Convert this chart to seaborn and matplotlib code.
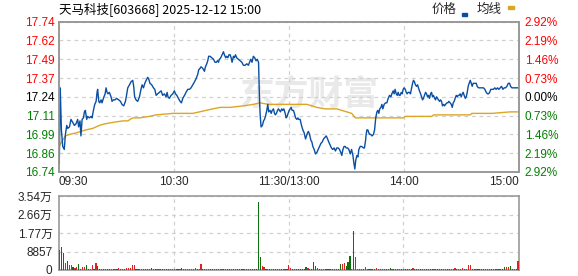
import numpy as np
import pandas as pd
import matplotlib
matplotlib.use("Agg")
import matplotlib.pyplot as plt
import seaborn as sns
from matplotlib.patches import Rectangle

# ---------------- data ----------------
title = "天马科技[603668] 2025-12-12 15:00"
legend_labels = ["价格", "均线"]
watermark = "东方财富"

price_tick_labels = ["16.74", "16.86", "16.99", "17.11", "17.24", "17.37", "17.49", "17.62", "17.74"]
pct_tick_labels = ["2.92%", "2.19%", "1.46%", "0.73%", "0.00%", "0.73%", "1.46%", "2.19%", "2.92%"]
time_ticks = [0, 60, 120, 180, 240]
time_labels = ["09:30", "10:30", "11:30/13:00", "14:00", "15:00"]
vol_ticks = [0, 8857, 17714, 26571, 35428]
vol_tick_labels = ["0", "8857", "1.77万", "2.66万", "3.54万"]

# minutes since 09:30 (trading minutes) and price
price_t = [
    0, 0.3, 0.8, 1.4, 2.1, 2.9, 3.5, 4.2, 4.7, 5.6,
    6.4, 7.3, 8.2, 9.0, 9.9, 10.4, 11.1, 11.6, 12.2, 12.9,
    13.4, 13.9, 14.6, 15.1, 16.0, 16.9, 17.4, 18.1, 18.8, 19.5,
    20.0, 20.3, 20.9, 21.4, 22.1, 22.6, 23.3, 24.2, 24.7, 25.2,
    25.7, 26.4, 27.3, 27.8, 28.5, 29.4, 30.2, 31.3, 32.2, 33.0,
    33.9, 34.8, 35.5, 36.0, 36.9, 37.7, 38.6, 39.1, 39.6, 40.3,
    41.2, 42.1, 42.9, 43.5, 44.2, 44.9, 45.6, 46.4, 46.9, 47.6,
    48.5, 49.4, 50.1, 50.8, 51.6, 52.5, 53.4, 54.2, 55.1, 56.0,
    56.5, 57.0, 57.7, 58.6, 59.5, 60.3, 60.9, 61.6, 62.4, 63.3,
    64.0, 64.7, 65.6, 66.4, 67.3, 68.2, 69.0, 69.9, 70.8, 71.6,
    72.5, 73.0, 73.7, 74.2, 75.1, 76.0, 76.5, 77.2, 77.7, 78.2,
    78.9,
    80.7, 81.5, 82.1, 82.8, 83.3, 83.8, 84.5, 85.2, 85.9,
    86.4, 87.1, 87.6, 88.2, 88.8, 89.4, 89.9, 90.4, 91.1, 91.6,
    92.2, 92.8, 93.7, 94.6, 95.5, 96.3, 97.2, 98.1, 98.9, 99.5,
    100.2, 100.8, 101.5, 102.2, 102.9, 103.5, 104.2, 104.7, 105.0, 105.5,
    106.2, 106.8, 107.3, 107.8, 108.5, 109.0, 109.5, 110.2, 110.8, 111.3,
    112.0, 112.5, 113.0, 113.5, 114.1, 114.6, 115.1, 115.6, 116.3, 116.8,
    117.4, 118.1, 118.6, 119.1, 119.6, 120.2, 120.7, 121.2, 121.7, 122.4,
    122.9, 123.5, 124.2, 124.7, 125.2, 125.9, 126.6, 127.3, 128.0, 128.7,
    129.2, 129.7, 130.2, 130.8, 131.5, 132.0, 132.5, 133.2, 133.9, 134.6,
    135.3, 136.0, 136.7, 137.4, 138.1, 138.8, 139.5, 140.2, 140.8, 141.5,
    142.2, 142.9, 143.6, 144.3, 145.0, 145.7, 146.4, 147.1, 147.6, 148.2,
    148.8, 149.4, 149.9, 150.6, 151.3, 152.0, 152.7, 153.4, 153.9, 154.4,
    154.9, 155.5, 156.0, 156.5,
    157.2, 158.0, 158.9, 159.4, 160.0, 160.3, 160.7, 161.2, 161.7, 162.2,
    162.7, 163.4, 164.1, 164.7, 165.0, 165.3, 165.9, 166.4, 166.9, 167.4,
    168.0, 168.5, 169.0, 169.7, 170.4, 171.1, 171.8, 172.5, 173.2, 173.7,
    174.4, 174.9, 175.4, 176.0, 176.5, 177.0, 177.5, 178.0, 178.6, 179.1,
    179.6, 180.1, 180.7, 181.2, 181.7, 182.2, 182.9, 183.4, 184.0, 184.5,
    185.0, 185.5, 186.0, 186.6, 187.1, 187.6, 188.1, 188.7, 189.2, 189.7,
    190.2, 190.7, 191.3, 191.8, 192.3, 192.8, 193.3, 193.9, 194.4, 194.9,
    195.4, 196.0, 196.5, 197.0, 197.5, 198.0, 198.6, 199.1, 199.6, 200.1,
    200.7, 201.2, 201.7, 202.4, 202.9, 203.4, 204.1, 204.7, 205.2, 205.7,
    206.2, 206.7, 207.3, 207.8, 208.3, 208.8, 209.3, 209.9, 210.4, 210.9,
    211.4, 212.0, 212.5, 213.0, 213.5, 214.0, 214.6, 215.1, 215.6, 216.1,
    216.7, 217.2, 217.7, 218.2, 218.9, 219.8, 220.7, 221.5, 222.2, 222.9,
    223.6, 224.1, 224.7, 225.3, 226.0, 226.7, 227.4, 228.1, 228.8, 229.5,
    230.2, 230.9, 231.6, 232.3, 233.0, 233.7, 234.4, 235.1, 235.6, 236.3,
    237.2, 238.9, 240.0,
]
price = [
    17.04, 16.80, 17.30, 17.02, 16.91, 16.89, 16.99, 17.05, 17.03, 17.04,
    17.09, 17.07, 17.05, 17.06, 17.09, 17.04, 17.08, 16.98, 17.09, 17.10,
    17.14, 17.15, 17.09, 17.11, 17.10, 17.11, 17.10, 17.15, 17.19, 17.21,
    17.27, 17.29, 17.21, 17.20, 17.22, 17.20, 17.23, 17.26, 17.30, 17.27,
    17.26, 17.27, 17.24, 17.21, 17.22, 17.22, 17.23, 17.22, 17.21, 17.19,
    17.18, 17.21, 17.26, 17.30, 17.32, 17.34, 17.35, 17.31, 17.24, 17.22,
    17.21, 17.24, 17.29, 17.32, 17.30, 17.33, 17.35, 17.37, 17.36, 17.33,
    17.32, 17.30, 17.29, 17.25, 17.26, 17.27, 17.28, 17.25, 17.26, 17.24,
    17.27, 17.24, 17.23, 17.25, 17.26, 17.28, 17.26, 17.25, 17.23, 17.21,
    17.20, 17.23, 17.25, 17.27, 17.29, 17.29, 17.30, 17.32, 17.34, 17.36,
    17.39, 17.42, 17.43, 17.44, 17.43, 17.41, 17.44, 17.46, 17.48, 17.51,
    17.51,
    17.49, 17.47, 17.47, 17.48, 17.47, 17.49, 17.50, 17.52, 17.54,
    17.52, 17.50, 17.51, 17.50, 17.52, 17.52, 17.50, 17.47, 17.51, 17.50,
    17.52, 17.50, 17.49, 17.48, 17.47, 17.45, 17.45, 17.46, 17.45, 17.47,
    17.49, 17.47, 17.51, 17.50, 17.48, 17.49, 17.47, 17.22, 17.13, 17.04,
    17.05, 17.08, 17.09, 17.11, 17.15, 17.19, 17.14, 17.15, 17.13, 17.15,
    17.16, 17.13, 17.12, 17.13, 17.15, 17.16, 17.15, 17.14, 17.16, 17.15,
    17.16, 17.13, 17.10, 17.11, 17.13, 17.15, 17.16, 17.17, 17.15, 17.15,
    17.13, 17.10, 17.09, 17.10, 17.09, 17.09, 17.05, 17.02, 17.00, 16.96,
    16.98, 17.00, 17.01, 16.99, 16.95, 16.94, 16.91, 16.89, 16.86, 16.87,
    16.89, 16.91, 16.93, 16.94, 16.96, 16.97, 16.98, 16.96, 16.94, 16.92,
    16.90, 16.89, 16.90, 16.88, 16.90, 16.90, 16.89, 16.87, 16.85, 16.89,
    16.91, 16.91, 16.90, 16.90, 16.89, 16.86, 16.89, 16.85, 16.80, 16.76,
    16.82, 16.85, 16.84, 16.89,
    16.91, 16.91, 16.90, 16.90, 16.95, 16.99, 17.02, 17.02, 17.00, 16.99,
    16.99, 16.98, 16.99, 17.02, 17.06, 17.10, 17.14, 17.15, 17.13, 17.16,
    17.17, 17.19, 17.16, 17.19, 17.20, 17.20, 17.23, 17.25, 17.24, 17.26,
    17.28, 17.26, 17.29, 17.26, 17.25, 17.27, 17.25, 17.25, 17.27, 17.26,
    17.29, 17.30, 17.29, 17.27, 17.26, 17.27, 17.27, 17.26, 17.30, 17.33,
    17.35, 17.34, 17.32, 17.31, 17.32, 17.30, 17.28, 17.26, 17.24, 17.22,
    17.23, 17.25, 17.27, 17.26, 17.24, 17.25, 17.23, 17.26, 17.27, 17.24,
    17.25, 17.23, 17.22, 17.24, 17.23, 17.22, 17.21, 17.22, 17.21, 17.18,
    17.19, 17.18, 17.19, 17.20, 17.20, 17.21, 17.20, 17.19, 17.17, 17.20,
    17.21, 17.23, 17.25, 17.24, 17.25, 17.25, 17.26, 17.24, 17.26, 17.27,
    17.25, 17.23, 17.24, 17.27, 17.31, 17.33, 17.35, 17.33, 17.31, 17.33,
    17.33, 17.33, 17.33, 17.31, 17.30, 17.30, 17.30, 17.30, 17.29, 17.27,
    17.26, 17.26, 17.27, 17.29, 17.29, 17.29, 17.30, 17.29, 17.30, 17.29,
    17.30, 17.31, 17.29, 17.30, 17.30, 17.31, 17.33, 17.33, 17.31, 17.30,
    17.30, 17.30, 17.30,
]

avg_t = [0, 0.3, 1.0, 3.5, 5.6, 9.0, 11.6, 14.2, 17.7, 21.2,
         23.8, 28.2, 33.4, 36.0, 38.6, 42.1, 47.3, 50.8, 59.5, 64.7,
         69.9, 73.4, 76.9, 80.3, 84.2, 89.4, 96.3, 101.5, 105.0, 109.4,
         120.7, 129.4, 134.6, 138.9, 145.0, 150.2, 152.8, 154.6, 162.4, 179.8,
         180.6, 194.6, 195.4, 214.6, 215.4, 225.9, 235.4, 240.0]
avg_price = [17.01, 16.91, 16.93, 16.98, 16.99, 17.00, 17.01, 17.02, 17.03, 17.05,
             17.06, 17.07, 17.08, 17.08, 17.10, 17.10, 17.11, 17.12, 17.13, 17.13,
             17.13, 17.14, 17.15, 17.16, 17.17, 17.17, 17.18, 17.19, 17.20, 17.19,
             17.19, 17.19, 17.17, 17.16, 17.16, 17.14, 17.13, 17.10, 17.10, 17.10,
             17.11, 17.11, 17.12, 17.12, 17.13, 17.13, 17.14, 17.14]

volume = [
    9600, 11000, 8300, 3500, 4300, 2400, 2400, 1600, 1100, 1300,
    2900, 500, 1300, 1600, 2200, 500, 500, 2200, 500, 3400,
    1900, 500, 400, 500, 400, 500, 400, 500, 500, 400,
    400, 900, 500, 400, 500, 900, 900, 900, 2400, 2400,
    500, 400, 500, 400, 500, 400, 500, 400, 900, 500,
    400, 500, 400, 500, 400, 500, 400, 500, 400, 500,
    400, 500, 400, 500, 900, 500, 400, 500, 400, 500,
    400, 900, 500, 400, 2900, 500, 400, 500, 400, 500,
    400, 500, 400, 500, 400, 500, 400, 500, 400, 500,
    400, 500, 400, 500, 400, 500, 400, 500, 400, 500,
    400, 500, 400, 500, 32500, 6200, 1900, 1400, 500, 400,
    500, 400, 500, 400, 500, 400, 500, 400, 500, 400,
    2400, 900, 400, 500, 400, 500, 400, 500, 400, 1300,
    900, 500, 400, 3800, 1900, 900, 400, 500, 400, 500,
    400, 500, 400, 500, 400, 500, 400, 2900, 3000, 3400,
    1900, 3800, 6700, 700, 18700, 6200, 500, 400, 500, 400,
    1300, 500, 400, 500, 400, 500, 900, 500, 400, 500,
    400, 500, 400, 900, 500, 400, 500, 400, 500, 400,
    500, 400, 500, 400, 500, 900, 400, 500, 400, 500,
    400, 500, 400, 500, 400, 500, 400, 500, 400, 500,
    400, 500, 400, 500, 400, 500, 400, 900, 500, 400,
    500, 900, 400, 500, 2400, 2400, 500, 400, 500, 600,
    500, 400, 500, 400, 500, 400, 500, 400, 500, 400,
    500, 400, 500, 1300, 1400, 1400, 1900, 500, 400, 500,
    4300,
]
# R = up minute, G = down minute
vol_dir = ("RGGRGRRGRR" "GGRRGGRRGR" "GGRGRGGRGR" "GRGRGRRRRR" "GGRRRGGRGR"
           "GRRGGRGGRR" "RGGRGRRRRR" "RRGRRGRRRG" "GRGRRRGRGG" "RGRGGGGRGR"
           "RGGGGGRRGR" "GRGGRRGRGG" "RRGRGGGGGG" "RGGGGRGRRG" "GGGGRGGGRR"
           "GGGRGRRGRG" "RRGGRRRRGR" "RGRGRGRGRG" "RGGRGRGGRG" "RRGRGGRGGG"
           "GRRGGRRRGR" "GRGRRRGGRG" "GGGRRRGRGR" "GRGGRRGGRG" "R")

# ---------------- style ----------------
BLUE = "#0a4fa3"
ORANGE = "#dca623"
RED = "#ff0000"
GREEN = "#008000"
GRID = "#d0d0d0"
SPINE = "#999999"

sns.set_theme(style="white")
plt.rcParams['font.family'] = ['Liberation Sans', 'Noto Sans CJK SC', 'DejaVu Sans']
cjk = ['Noto Sans CJK SC', 'DejaVu Sans']

W, H = 578, 276
fig = plt.figure(figsize=(W / 100, H / 100), dpi=100)
L, R = 58.7, 519.0
ax = fig.add_axes([L / W, 1 - 172 / H, (R - L) / W, (172 - 21.7) / H])
axv = fig.add_axes([L / W, 1 - 270 / H, (R - L) / W, (270 - 196) / H])

ymin, ymax = float(price_tick_labels[0]), float(price_tick_labels[-1])
price_pos = np.linspace(ymin, ymax, len(price_tick_labels))

# watermark
ax.text(131, 17.262, watermark, ha="center", va="center", fontsize=25, fontweight="bold",
        color="#e9e9e9", family=cjk, zorder=0)

df_p = pd.DataFrame({"t": price_t, "p": price})
df_a = pd.DataFrame({"t": avg_t, "p": avg_price})
sns.lineplot(data=df_a, x="t", y="p", ax=ax, color=ORANGE, lw=1.0, estimator=None, sort=False, zorder=3)
sns.lineplot(data=df_p, x="t", y="p", ax=ax, color=BLUE, lw=1.0, estimator=None, sort=False, zorder=4)
ax.set_xlim(0, 240)
ax.set_ylim(ymin, ymax)
ax.set_xlabel("")
ax.set_ylabel("")

ax.set_yticks(price_pos)
ax.set_yticklabels(price_tick_labels)
ax.set_xticks(time_ticks)
ax.set_xticklabels(time_labels)
ax.grid(True, color=GRID, ls=(0, (3, 3)), lw=0.9)
ax.tick_params(axis="both", length=0, labelsize=8.5)
ax.tick_params(axis="y", pad=3)
ax.tick_params(axis="x", pad=3)
xl = ax.get_xticklabels()
xl[0].set_ha("left")
xl[-1].set_ha("right")

n = len(price_tick_labels)
mid = n // 2
ycols = [GREEN] * mid + ["#000000"] + [RED] * mid
for lbl, c in zip(ax.get_yticklabels(), ycols):
    lbl.set_color(c)

axr = ax.twinx()
axr.set_ylim(ymin, ymax)
axr.set_yticks(price_pos)
axr.set_yticklabels(pct_tick_labels[::-1])
axr.tick_params(axis="y", length=0, labelsize=8.5, pad=4)
axr.grid(False)
for lbl, c in zip(axr.get_yticklabels(), ycols):
    lbl.set_color(c)

for a in (ax, axr, axv):
    for s in a.spines.values():
        s.set_color(SPINE)
        s.set_linewidth(1.2)

# volume
df_v = pd.DataFrame({"m": np.arange(len(volume)), "v": volume, "d": list(vol_dir)})
sns.barplot(data=df_v, x="m", y="v", hue="d", palette={"R": RED, "G": GREEN},
            native_scale=True, dodge=False, errorbar=None, legend=False,
            width=0.6, linewidth=0, ax=axv, zorder=3)
for p in axv.patches:
    p.set_antialiased(False)
axv.set_xlim(-0.5, 240.5)
axv.set_ylim(0, vol_ticks[-1])
axv.set_xlabel("")
axv.set_ylabel("")
axv.set_yticks(vol_ticks)
axv.set_yticklabels(vol_tick_labels, family=['Liberation Sans', 'Noto Sans CJK SC'])
axv.set_xticks(time_ticks[1:-1])
axv.set_xticklabels([])
axv.grid(True, color=GRID, ls=(0, (3, 3)), lw=0.9)
axv.set_axisbelow(True)
axv.tick_params(axis="both", length=0, labelsize=8.5)
axv.tick_params(axis="y", pad=4.5)

# header
fig.text(59 / W, 1 - 9.5 / H, title, ha="left", va="center", fontsize=9, family=cjk, color="#000000")
fig.text(431.7 / W, 1 - 9 / H, legend_labels[0], ha="left", va="center", fontsize=9, family=cjk)
fig.text(476.7 / W, 1 - 9 / H, legend_labels[1], ha="left", va="center", fontsize=9, family=cjk)
fig.patches.append(Rectangle((461.7 / W, 1 - 15.7 / H), 5.6 / W, 2.6 / H,
                             transform=fig.transFigure, color=BLUE, figure=fig))
fig.patches.append(Rectangle((508.3 / W, 1 - 8.7 / H), 5.6 / W, 2.6 / H,
                             transform=fig.transFigure, color=ORANGE, figure=fig))

fig.savefig("out.png", dpi=100)
